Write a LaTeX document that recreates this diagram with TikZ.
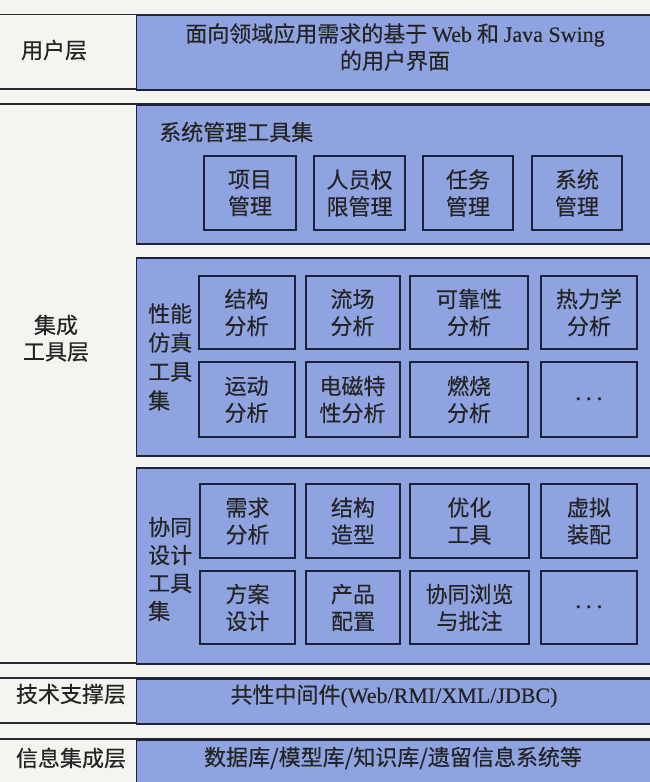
\documentclass[tikz,border=0pt]{standalone}
\usepackage{fontspec}
\setmainfont{Liberation Serif}
\newfontfamily\cjk[FakeBold=0.3]{Noto Sans CJK SC}
\newfontfamily\latn[FakeBold=0.3]{Liberation Serif}
\definecolor{bgcol}{HTML}{F4F4F1}
\definecolor{boxblue}{HTML}{8FA3E0}
\definecolor{edgecol}{HTML}{1C2238}
\definecolor{linecol}{HTML}{2A2A30}
\definecolor{txtcol}{HTML}{242424}
\tikzset{
  outerbox/.style={draw=edgecol, line width=1.5pt, fill=boxblue, anchor=north west, inner sep=0pt},
  ibox/.style={draw=edgecol, line width=2pt, fill=boxblue, inner sep=0pt, align=center,
    font=\cjk\fontsize{22}{27}\selectfont, text=txtcol},
  dotsbox/.style={ibox, font=\fontsize{22}{26}\selectfont\boldmath},
  lbl/.style={font=\cjk\fontsize{22}{27}\selectfont, text=txtcol, inner sep=0pt},
  sepline/.style={draw=linecol, line width=1.5pt}
}
\begin{document}
\begin{tikzpicture}[x=1pt,y=-1pt]
\useasboundingbox (0,0) rectangle (650,782);
\fill[bgcol] (0,0) rectangle (650,782);
\clip (0,0) rectangle (650,782);
% separator lines
\draw[sepline] (0,14.7) -- (650,14.7);
\draw[sepline] (0,89) -- (650,89);
\draw[sepline] (0,104) -- (650,104);
\draw[sepline] (0,663) -- (650,663);
\draw[sepline] (0,678) -- (650,678);
\draw[sepline] (0,723) -- (650,723);
\draw[sepline] (0,739) -- (650,739);
% outer boxes
\node[outerbox, minimum width=520pt, minimum height=74.3pt] (user) at (135.6,14.7) {};
\node[outerbox, minimum width=520pt, minimum height=139pt] (sys) at (135.6,104) {};
\node[outerbox, minimum width=520pt, minimum height=198pt] (perf) at (135.6,257) {};
\node[outerbox, minimum width=520pt, minimum height=196pt] (coll) at (135.6,467) {};
\node[outerbox, minimum width=520pt, minimum height=45pt] (tech) at (135.6,678) {};
\node[outerbox, minimum width=520pt, minimum height=60pt] (info) at (135.6,739) {};
% left labels
\node[lbl] (lUser) at (54,50) {用户层};
\node[lbl] (lInt1) at (56,325) {集成};
\node[lbl] (lInt2) at (56,352) {工具层};
\node[lbl] (lTech) at (71,694) {技术支撑层};
\node[lbl] (lInfo) at (71,758) {信息集成层};
% user layer text
\node[lbl, align=center] (uText) at (395,47) {面向领域应用需求的基于 {\latn Web} 和 {\latn Java Swing}\\的用户界面};
% system management
\node[lbl, anchor=west] (sysT) at (159,132) {系统管理工具集};
\node[ibox, minimum width=92pt, minimum height=74pt] (s1) at (250,193) {项目\\管理};
\node[ibox, minimum width=91pt, minimum height=74pt] (s2) at (359.5,193) {人员权\\限管理};
\node[ibox, minimum width=90pt, minimum height=74pt] (s3) at (468,193) {任务\\管理};
\node[ibox, minimum width=90pt, minimum height=74pt] (s4) at (577,193) {系统\\管理};
% performance simulation
\node[lbl, align=left, anchor=west, font=\cjk\fontsize{22}{29}\selectfont] (perfT) at (148,357) {性能\\仿真\\工具\\集};
\node[ibox, minimum width=96pt, minimum height=73pt] (p1) at (246.5,312.5) {结构\\分析};
\node[ibox, minimum width=94pt, minimum height=73pt] (p2) at (352.5,312.5) {流场\\分析};
\node[ibox, minimum width=118pt, minimum height=73pt] (p3) at (469,312.5) {可靠性\\分析};
\node[ibox, minimum width=96pt, minimum height=73pt] (p4) at (589,312.5) {热力学\\分析};
\node[ibox, minimum width=96pt, minimum height=75pt] (p5) at (246.5,399.5) {运动\\分析};
\node[ibox, minimum width=94pt, minimum height=75pt] (p6) at (352.5,399.5) {电磁特\\性分析};
\node[ibox, minimum width=118pt, minimum height=75pt] (p7) at (469,399.5) {燃烧\\分析};
\node[dotsbox, minimum width=96pt, minimum height=75pt] (p8) at (589,399.5) {$\cdots$};
% collaborative design
\node[lbl, align=left, anchor=west, font=\cjk\fontsize{22}{28}\selectfont] (collT) at (148,569) {协同\\设计\\工具\\集};
\node[ibox, minimum width=95pt, minimum height=74pt] (c1) at (247.5,521) {需求\\分析};
\node[ibox, minimum width=94pt, minimum height=74pt] (c2) at (353,521) {结构\\造型};
\node[ibox, minimum width=119pt, minimum height=74pt] (c3) at (469.5,521) {优化\\工具};
\node[ibox, minimum width=96pt, minimum height=74pt] (c4) at (589,521) {虚拟\\装配};
\node[ibox, minimum width=95pt, minimum height=73pt] (c5) at (247.5,607.5) {方案\\设计};
\node[ibox, minimum width=94pt, minimum height=73pt] (c6) at (353,607.5) {产品\\配置};
\node[ibox, minimum width=119pt, minimum height=73pt] (c7) at (469.5,607.5) {协同浏览\\与批注};
\node[dotsbox, minimum width=96pt, minimum height=73pt] (c8) at (589,607.5) {$\cdots$};
% technical support and information
\node[lbl] (techT) at (394,696) {共性中间件{\latn (Web/RMI/XML/JDBC)}};
\node[lbl] (infoT) at (393,758) {数据库/模型库/知识库/遗留信息系统等};
\end{tikzpicture}
\end{document}
